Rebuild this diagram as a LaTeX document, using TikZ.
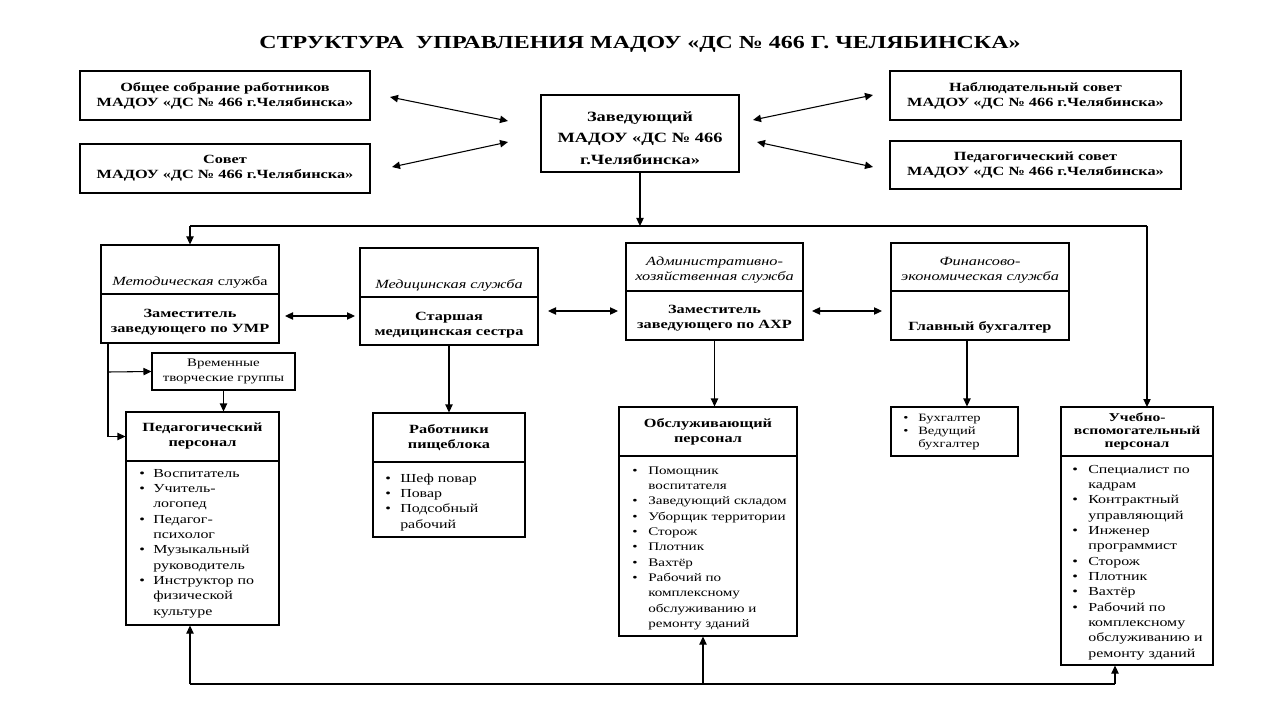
\documentclass[tikz,border=0pt]{standalone}
\usepackage{fontspec}
\setmainfont{Liberation Serif}[FakeStretch=1.3]
\usetikzlibrary{arrows.meta,fit}
\newlength\bw
\newcommand\itm{\makebox[\bw][l]{\textbullet}}
\newcommand\cnt{\hspace*{\bw}}
\begin{document}
\begin{tikzpicture}[x=0.75pt,y=-0.75pt,
  box/.style={draw, line width=0.8pt, inner sep=0pt},
  ln/.style={line width=0.8pt},
  arr/.style={line width=0.8pt, -{Triangle[length=6pt,width=5.5pt]}},
  darr/.style={line width=0.8pt, {Triangle[length=6pt,width=5.5pt]}-{Triangle[length=6pt,width=5.5pt]}},
  bt/.style={font=\fontsize{9.4}{11.25}\selectfont\bfseries, align=center, inner sep=0pt},
  it/.style={font=\fontsize{9.4}{11.25}\selectfont\itshape, align=center, inner sep=0pt},
  lst/.style={font=\fontsize{9.2}{11.5}\selectfont, anchor=base west, inner sep=0pt}]
\useasboundingbox (0,0) rectangle (1280,720);

% title
\node[font=\fontsize{13.8}{16}\selectfont\bfseries, inner sep=0pt] (title) at (640,44)
  {СТРУКТУРА~ УПРАВЛЕНИЯ МАДОУ «ДС № 466 Г. ЧЕЛЯБИНСКА»};

% top row
\node[box, fit={(80,71)(370,120)}] (obs) {};
\node[bt] (obsT) at (obs.center) {Общее собрание работников\\МАДОУ «ДС № 466 г.Челябинска»};
\node[box, fit={(80,144)(370,193)}] (sov) {};
\node[bt] (sovT) at (sov.center) {Совет\\МАДОУ «ДС № 466 г.Челябинска»};
\node[box, fit={(890,71)(1181,120)}] (nab) {};
\node[bt] (nabT) at (nab.center) {Наблюдательный совет\\МАДОУ «ДС № 466 г.Челябинска»};
\node[box, fit={(890,141)(1181,189)}] (psov) {};
\node[bt] (psovT) at (psov.center) {Педагогический совет\\МАДОУ «ДС № 466 г.Челябинска»};
\node[box, fit={(541,95)(739,172)}] (zav) {};
\node[bt, font=\fontsize{10.6}{16}\selectfont\bfseries] (zavT) at (640,138)
  {Заведующий\\МАДОУ «ДС № 466\\г.Челябинска»};

\coordinate (a1l) at (390,97);  \coordinate (a1r) at (508,121);
\coordinate (a2l) at (392,167); \coordinate (a2r) at (508,142);
\coordinate (a3l) at (753,120); \coordinate (a3r) at (873,95);
\coordinate (a4l) at (757,142); \coordinate (a4r) at (873,167);
\draw[darr] (a1l) -- (a1r);
\draw[darr] (a2l) -- (a2r);
\draw[darr] (a3l) -- (a3r);
\draw[darr] (a4l) -- (a4r);

% distribution line
\coordinate (hL) at (190,226);
\coordinate (hR) at (1147,226);
\draw[ln] (hL) -- (hR);
\draw[arr] (zav.south) -- (zav.south |- hL);

% services
\node[box, fit={(101,245)(279,294)}] (metH) {};
\node[box, fit={(101,294)(279,343)}] (metB) {};
\node[it] (metHT) at (190,282) {Методическая \upshape служба};
\node[bt] (metBT) at (190,322) {Заместитель\\заведующего по УМР};

\node[box, fit={(360,248)(538,297)}] (medH) {};
\node[box, fit={(360,297)(538,345)}] (medB) {};
\node[it] (medHT) at (449,285) {Медицинская служба};
\node[bt] (medBT) at (449,325) {Старшая\\медицинская сестра};

\node[box, fit={(626,243)(803,291)}] (ahrH) {};
\node[box, fit={(626,291)(803,340)}] (ahrB) {};
\node[it] (ahrHT) at (714.5,270) {Административно-\\хозяйственная служба};
\node[bt] (ahrBT) at (714.5,318) {Заместитель\\заведующего по АХР};

\node[box, fit={(891,243)(1069,291)}] (finH) {};
\node[box, fit={(891,291)(1069,340)}] (finB) {};
\node[it] (finHT) at (980,270) {Финансово-\\экономическая служба};
\node[bt] (finBT) at (980,327) {Главный бухгалтер};

\draw[arr] (hL) -- (hL |- metH.north);
\draw[arr] (hR) -- (hR |- 0,407);

\coordinate (d1l) at (285,316); \coordinate (d1r) at (355,316);
\coordinate (d2l) at (548,311); \coordinate (d2r) at (618,311);
\coordinate (d3l) at (812,311); \coordinate (d3r) at (882,311);
\draw[darr] (d1l) -- (d1r);
\draw[darr] (d2l) -- (d2r);
\draw[darr] (d3l) -- (d3r);

% temporary groups
\node[box, fit={(152,353)(295,390)}] (vrem) {};
\node[inner sep=0pt, align=center, font=\fontsize{8.6}{11}\selectfont] (vremT) at (vrem.center)
  {Временные\\творческие группы};

% pedagogical staff
\node[box, fit={(126,412)(279,461)}] (pedH) {};
\node[box, fit={(126,461)(279,625)}] (pedB) {};
\node[bt] (pedHT) at (pedH.center) {Педагогический\\персонал};
\node[lst] (pedL) at (139,477) {\setlength\bw{10.5pt}\begin{tabular}[t]{@{}l@{}}
  \itm Воспитатель\\
  \itm Учитель-\\ \cnt логопед\\
  \itm Педагог-\\ \cnt психолог\\
  \itm Музыкальный\\ \cnt руководитель\\
  \itm Инструктор по\\ \cnt физической\\ \cnt культуре
  \end{tabular}};

\coordinate (mv) at (108,343);
\coordinate (mb) at (108,372);
\draw[arr] (mv) |- (pedH.west);
\draw[arr] (mb) -- (vrem.west);
\draw[arr] (vrem.south) -- (vrem.south |- pedH.north);

% kitchen
\node[box, fit={(373,413)(525,462)}] (rabH) {};
\node[box, fit={(373,462)(525,537)}] (rabB) {};
\node[bt] (rabHT) at (rabH.center) {Работники\\пищеблока};
\node[lst] (rabL) at (385,482) {\setlength\bw{11.25pt}\begin{tabular}[t]{@{}l@{}}
  \itm Шеф повар\\
  \itm Повар\\
  \itm Подсобный\\ \cnt рабочий
  \end{tabular}};
\draw[arr] (medB.south) -- (medB.south |- rabH.north);

% service staff
\node[box, fit={(619,407)(797,456)}] (obsH) {};
\node[box, fit={(619,456)(797,636)}] (obsB) {};
\node[bt] (obsHT) at (obsH.center) {Обслуживающий\\персонал};
\node[lst, font=\fontsize{8.7}{11.5}\selectfont] (obsL) at (632,474) {\setlength\bw{12pt}\begin{tabular}[t]{@{}l@{}}
  \itm Помощник\\ \cnt воспитателя\\
  \itm Заведующий складом\\
  \itm Уборщик территории\\
  \itm Сторож\\
  \itm Плотник\\
  \itm Вахтёр\\
  \itm Рабочий по\\ \cnt комплексному\\ \cnt обслуживанию и\\ \cnt ремонту зданий
  \end{tabular}};
\draw[arr] (ahrB.south) -- (ahrB.south |- obsH.north);

% accounting
\node[box, fit={(891,407)(1018,456)}] (buh) {};
\node[lst, font=\fontsize{8.4}{9.75}\selectfont] (buhL) at (903,421) {\setlength\bw{11.25pt}\begin{tabular}[t]{@{}l@{}}
  \itm Бухгалтер\\
  \itm Ведущий\\ \cnt бухгалтер
  \end{tabular}};
\coordinate (fb) at (967,340);
\draw[arr] (fb) -- (fb |- buh.north);

% support staff
\node[box, fit={(1061,407)(1213,456)}] (uchH) {};
\node[box, fit={(1061,456)(1213,665)}] (uchB) {};
\node[bt, font=\fontsize{9}{9.75}\selectfont\bfseries] (uchHT) at (uchH.center) {Учебно-\\вспомогательный\\персонал};
\node[lst] (uchL) at (1072,473) {\setlength\bw{12pt}\begin{tabular}[t]{@{}l@{}}
  \itm Специалист по\\ \cnt кадрам\\
  \itm Контрактный\\ \cnt управляющий\\
  \itm Инженер\\ \cnt программист\\
  \itm Сторож\\
  \itm Плотник\\
  \itm Вахтёр\\
  \itm Рабочий по\\ \cnt комплексному\\ \cnt обслуживанию и\\ \cnt ремонту зданий
  \end{tabular}};

% bottom feedback line
\coordinate (bl) at (190,684);
\coordinate (bm) at (703,684);
\coordinate (br) at (1115,684);
\draw[ln] (bl) -- (br);
\draw[arr] (bl) -- (bl |- pedB.south);
\draw[arr] (bm) -- (bm |- obsB.south);
\draw[arr] (br) -- (br |- uchB.south);
\end{tikzpicture}
\end{document}
